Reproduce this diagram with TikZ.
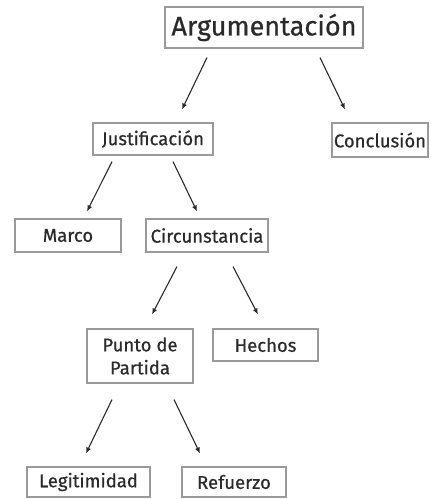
\documentclass[tikz,border=0pt]{standalone}
\usepackage{fontspec}
\setmainfont{Fira Sans}[FakeBold=0.6]
\usetikzlibrary{calc,arrows.meta}
\definecolor{boxline}{HTML}{9A9A9A}
\definecolor{ink}{HTML}{2A2A2A}
\tikzset{
  box/.style={draw=boxline, line width=1.1pt, rectangle, inner sep=0pt, text=ink, font=\fontsize{18.5}{23}\selectfont, align=center},
  conn/.style={draw=ink, line width=1.1pt, -{Latex[length=6pt,width=5pt]}}
}
\begin{document}
\begin{tikzpicture}[x=1pt,y=-1pt]
\useasboundingbox (0,0) rectangle (431,499);
\node[box, minimum width=198pt, minimum height=41pt, font=\fontsize{27}{30}\selectfont] (arg) at (264,27.5) {Argumentación};
\node[box, minimum width=96pt, minimum height=34pt] (concl) at (380,140) {Conclusión};
\node[box, minimum width=120pt, minimum height=32pt] (just) at (153,139) {Justificación};
\node[box, minimum width=106pt, minimum height=33pt] (marco) at (68,235.5) {Marco};
\node[box, minimum width=122pt, minimum height=33pt] (circ) at (207,235.5) {Circunstancia};
\node[box, minimum width=106pt, minimum height=54pt] (punto) at (140,356) {Punto de\\Partida};
\node[box, minimum width=105pt, minimum height=32pt] (hechos) at (265.5,345) {Hechos};
\node[box, minimum width=123pt, minimum height=30pt] (legit) at (88.5,482) {Legitimidad};
\node[box, minimum width=104pt, minimum height=30pt] (ref) at (234,482) {Refuerzo};
% arrow end points
\coordinate (a1s) at ($(arg.south)+(-57,9)$);
\coordinate (a1e) at ($(just.north)+(29,-13)$);
\coordinate (a2s) at ($(arg.south)+(56,9)$);
\coordinate (a2e) at ($(concl.north)+(-35,-13)$);
\coordinate (j1s) at ($(just.south)+(-41,6)$);
\coordinate (j1e) at ($(marco.north)+(19,-7)$);
\coordinate (j2s) at ($(just.south)+(20,6)$);
\coordinate (j2e) at ($(circ.north)+(-10,-7)$);
\coordinate (c1s) at ($(circ.south)+(-30,14)$);
\coordinate (c1e) at ($(punto.north)+(12,-14)$);
\coordinate (c2s) at ($(circ.south)+(26,14)$);
\coordinate (c2e) at ($(hechos.north)+(-7.5,-14)$);
\coordinate (p1s) at ($(punto.south)+(-28,16)$);
\coordinate (p1e) at ($(legit.north)+(-2.5,-13)$);
\coordinate (p2s) at ($(punto.south)+(34,16)$);
\coordinate (p2e) at ($(ref.north)+(-34,-13)$);
\draw[conn] (a1s) -- (a1e);
\draw[conn] (a2s) -- (a2e);
\draw[conn] (j1s) -- (j1e);
\draw[conn] (j2s) -- (j2e);
\draw[conn] (c1s) -- (c1e);
\draw[conn] (c2s) -- (c2e);
\draw[conn] (p1s) -- (p1e);
\draw[conn] (p2s) -- (p2e);
\end{tikzpicture}
\end{document}
